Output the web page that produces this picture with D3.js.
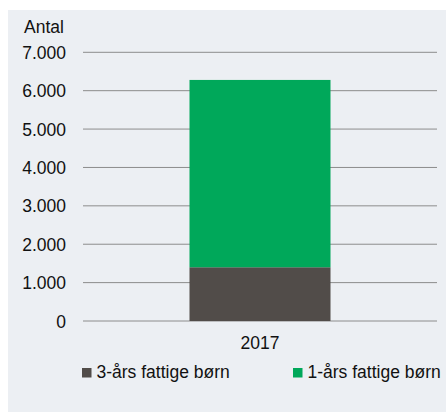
<!DOCTYPE html>
<html><head><meta charset="utf-8">
<script src="https://cdn.jsdelivr.net/npm/d3@7"></script>
<style>html,body{margin:0;padding:0;background:#fff;}svg{display:block;}</style>
</head><body>
<script>
const categories = ["2017"];
const seriesNames = ["3-års fattige børn", "1-års fattige børn"];
const series3 = [1400];
const series1 = [4880];
const yTicks = [0, 1000, 2000, 3000, 4000, 5000, 6000, 7000];
const colors = ["#514c49", "#00a85a"];

const W = 446, H = 412;
const FS = 17.5;
const svg = d3.select("body").append("svg").attr("width", W).attr("height", H)
  .style("font-family", "'Liberation Sans', Arial, sans-serif");
svg.append("rect").attr("x", 8).attr("y", 10).attr("width", W - 8).attr("height", H - 10).attr("fill", "#eceff3");

const x = d3.scaleBand().domain(categories).range([83, 437]).paddingInner(0).paddingOuter(0.3);
const y = d3.scaleLinear().domain([0, 7000]).range([321, 52.3]);
const fmt = v => d3.format(",")(v).replace(/,/g, ".");

svg.append("g").selectAll("line").data(yTicks).join("line")
  .attr("x1", 83).attr("x2", 437).attr("y1", d => y(d)).attr("y2", d => y(d))
  .attr("stroke", "#8c8c8c").attr("stroke-width", 1);
svg.append("g").selectAll("text").data(yTicks).join("text")
  .attr("x", 66).attr("y", d => y(d) + 6.5).attr("text-anchor", "end")
  .attr("font-size", FS).attr("fill", "#111").text(fmt);
svg.append("text").attr("x", 24).attr("y", 33).attr("font-size", FS).attr("fill", "#111").text("Antal");

const stack = d3.stack().keys([0, 1]).value((d, k) => d[k]);
const rows = categories.map((c, i) => [series3[i], series1[i]]);
const layers = stack(rows);
const bw = 141;
layers.forEach((layer, k) => {
  svg.append("g").selectAll("rect").data(layer).join("rect")
    .attr("x", (d, i) => x(categories[i]) + x.bandwidth() / 2 - bw / 2)
    .attr("width", bw)
    .attr("y", d => y(d[1])).attr("height", d => y(d[0]) - y(d[1]))
    .attr("fill", colors[k]);
});
svg.append("g").selectAll("text").data(categories).join("text")
  .attr("x", d => x(d) + x.bandwidth() / 2).attr("y", 349).attr("text-anchor", "middle")
  .attr("font-size", FS).attr("fill", "#111").text(d => d);

const legX = [82, 293];
seriesNames.forEach((n, k) => {
  svg.append("rect").attr("x", legX[k]).attr("y", 368).attr("width", 9.5).attr("height", 9.5).attr("fill", colors[k]);
  svg.append("text").attr("x", legX[k] + 14.5).attr("y", 378).attr("font-size", FS).attr("fill", "#111").text(n);
});
</script>
</body></html>
